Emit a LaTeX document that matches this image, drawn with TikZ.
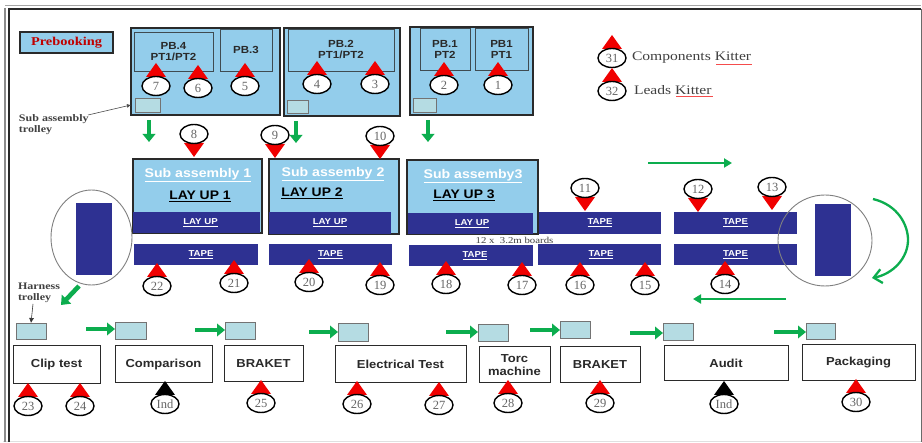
\documentclass[tikz,border=0pt]{standalone}
\usepackage{fontspec}
\setmainfont{Liberation Serif}
\newfontfamily\labfont[FakeStretch=1.12]{Liberation Sans}
\newfontfamily\widefont[FakeStretch=1.2]{Liberation Serif}
\usetikzlibrary{arrows.meta,shapes.geometric}
\definecolor{lblue}{HTML}{93CDEB}
\definecolor{dblue}{HTML}{2E3192}
\definecolor{troll}{HTML}{B5DCE3}
\definecolor{grn}{HTML}{0CAD4E}
\definecolor{rred}{HTML}{F00000}
\definecolor{inkk}{HTML}{2A2A2A}
\tikzset{
  x=1pt,y=-1pt,
  every node/.style={inner sep=0pt,outer sep=0pt},
  group/.style={draw=inkk,line width=1.4pt,fill=lblue},
  innerbox/.style={draw=inkk!80!lblue,line width=.9pt,fill=lblue,align=center,text=inkk,font=\labfont\bfseries\fontsize{10.3}{11}\selectfont},
  band/.style={fill=dblue,text=white,font=\labfont\bfseries\fontsize{8.6}{10}\selectfont},
  trolleybox/.style={draw=black!55,line width=.9pt,fill=troll},
  station/.style={draw=inkk,line width=1pt,fill=white,align=center,text=inkk,font=\labfont\bfseries\fontsize{11.6}{12.5}\selectfont},
  numoval/.style={draw=black,line width=1.4pt,fill=white,ellipse,minimum width=28pt,minimum height=19pt,text=black!60,font=\fontsize{12.5}{12.5}\selectfont},
  gblock/.style={draw=grn,line width=4.6pt,-{Triangle[length=8pt,width=12.5pt]}},
  gthin/.style={draw=grn,line width=2.3pt,-{Triangle[length=8pt,width=9pt]}},
  wheel/.style={draw=black!50,line width=.9pt,ellipse},
  note/.style={font=\widefont\bfseries\fontsize{10}{11.5}\selectfont,align=left,anchor=north west,text=black!75},
  kit/.style={font=\widefont\fontsize{13}{15}\selectfont,anchor=west,text=black!75},
  subhead/.style={text=white,font=\labfont\bfseries\fontsize{12.6}{14}\selectfont},
  layhead/.style={text=black,font=\labfont\bfseries\fontsize{12.4}{14}\selectfont},
}
% marker pointing up: triangle above the oval
\newcommand{\mku}[5][rred]{%
  \fill[#1] (#3-10,#4-9) -- (#3,#4-23) -- (#3+10,#4-9) -- cycle;
  \node[numoval] (#2) at (#3,#4) {#5};}
% marker pointing down: triangle below the oval
\newcommand{\mkd}[3]{%
  \fill[rred] (#1-10,#2+9) -- (#1,#2+23) -- (#1+10,#2+9) -- cycle;
  \node[numoval] (m#3) at (#1,#2) {#3};}
\newcommand{\boxat}[5][]{\node[#1,minimum width=#4-#2,minimum height=#5-#3] at ({(#2+#4)/2},{(#3+#5)/2})}
\begin{document}
\begin{tikzpicture}
\useasboundingbox (0,0) rectangle (922,443);
\fill[white] (0,0) rectangle (922,443);
% frame
\draw[black!12,line width=.8pt] (3,441.5) -- (921,441.5);
\draw[black!35,line width=1pt] (5,6) -- (921,6);
\draw[inkk,line width=1.3pt] (8,9) -- (921,9);
\draw[inkk,line width=2.4pt] (9,8) -- (9,442);
\draw[black!45,line width=1.4pt] (5,8) -- (5,442);
\draw[inkk!70,line width=.9pt] (921,9) -- (921,442);

% prebooking
\boxat[group,text=rred!80!black,font=\widefont\bfseries\fontsize{12}{12}\selectfont]{20}{32}{113}{53} (prebook) {Prebooking};

% PB groups
\boxat[group]{131}{28}{280}{115} (g1) {};
\boxat[group]{284}{28}{400}{116} (g2) {};
\boxat[group]{410}{27}{533}{115} (g3) {};
\boxat[innerbox]{134}{32}{213}{71} (pb4) {PB.4\\PT1/PT2};
\boxat[innerbox]{220}{29}{272}{71} (pb3) {PB.3};
\boxat[innerbox]{288}{29}{394}{71} (pb2) {PB.2\\PT1/PT2};
\boxat[innerbox]{420}{28}{470}{70} (pb1b) {PB.1\\PT2};
\boxat[innerbox]{475}{28}{528}{70} (pb1a) {PB1\\PT1};
\boxat[trolleybox]{135}{98}{160}{112} (st1) {};
\boxat[trolleybox]{287}{100}{308}{113} (st2) {};
\boxat[trolleybox]{413}{98}{436}{112} (st3) {};

\mku{m7}{156}{86}{7}
\mku{m6}{198}{88}{6}
\mku{m5}{245}{86}{5}
\mku{m4}{317}{84}{4}
\mku{m3}{375}{84}{3}
\mku{m2}{444}{85}{2}
\mku{m1}{498}{85}{1}

% legend
\mku{m31}{612}{58}{31}
\mku{m32}{612}{91}{32}
\node[kit] (k31) at (632,58) {Components Kitter};
\node[kit] (k32) at (634,90) {Leads Kitter};
\draw[rred!70,line width=.5pt] (716,64) -- (752,64);
\draw[rred!70,line width=.5pt] (676,96) -- (713,96);

% notes
\node[note] (nsub) at (19,114.5) {Sub assembly\\trolley};
\node[note] (nhar) at (18,282.5) {Harness\\trolley};
\coordinate (leadsub) at (88,115);
\draw[black!70,line width=.6pt,-{Latex[length=4pt,width=4pt]}] (leadsub) -- (g1.west |- st1.west);
\boxat[trolleybox]{16}{323}{46}{339} (t1) {};
\coordinate (leadhar) at (33,304);
\draw[black!80,line width=.6pt,-{Latex[length=5pt,width=5pt]}] (leadhar) -- (t1.north);

% sub assemblies
\boxat[group]{133}{159}{262}{233} (sa1) {};
\boxat[group]{269}{159}{399}{234} (sa2) {};
\boxat[group]{407}{160}{538}{234} (sa3) {};
\node[subhead] (sh1) at (198,175) {\underline{Sub assembly 1}};
\node[subhead] (sh2) at (333,174) {\underline{Sub assemby 2}};
\node[subhead] (sh3) at (473,176) {\underline{Sub assemby3}};
\node[layhead] (lu1) at (200,196) {\underline{LAY UP 1}};
\node[layhead] (lu2) at (312,193) {\underline{LAY UP 2}};
\node[layhead] (lu3) at (464,195) {\underline{LAY UP 3}};

% wheels
\node[wheel,fill=white,minimum width=81pt,minimum height=95pt] (w1) at (91.5,237.5) {};
\boxat[fill=dblue]{76}{203}{112}{275} (r1) {};

% bands
\boxat[band]{133}{212}{260}{233} (l1) {\hspace{8pt}\underline{LAY UP}};
\boxat[band]{269}{212}{391}{234} (l2) {\underline{LAY UP}};
\boxat[band]{408}{213}{533}{234} (l3) {\hspace{3pt}\underline{LAY UP}};
\boxat[band]{539}{212}{661}{234} (tt1) {\underline{TAPE}\hspace{6pt}};
\boxat[band]{674}{212}{797}{234} (tt2) {\underline{TAPE}\hspace{8pt}};
\boxat[band]{134}{244}{258}{265} (b1) {\hspace{10pt}\underline{TAPE}};
\boxat[band]{269}{244}{392}{265} (b2) {\underline{TAPE}\hspace{3pt}};
\boxat[band]{409}{245}{533}{266} (b3) {\hspace{8pt}\underline{TAPE}};
\boxat[band]{538}{244}{661}{265} (b4) {\hspace{3pt}\underline{TAPE}};
\boxat[band]{674}{244}{797}{265} (b5) {\underline{TAPE}};
\node[wheel,minimum width=94pt,minimum height=91pt] (w2) at (825,240.5) {};
\boxat[fill=dblue]{815}{204}{851}{276} (r2) {};
\node[font=\widefont\fontsize{9}{9}\selectfont,text=black!75] (boards) at (514.5,240) {12 x\ \ 3.2m boards};

% top markers
\mkd{194}{134}{8}
\mkd{275}{135}{9}
\mkd{380}{136}{10}
\mkd{585}{188}{11}
\mkd{698}{189}{12}
\mkd{772}{187}{13}

% tape markers
\mku{m22}{157}{286}{22}
\mku{m21}{234}{283}{21}
\mku{m20}{309}{282}{20}
\mku{m19}{380}{285}{19}
\mku{m18}{446}{284}{18}
\mku{m17}{522}{285}{17}
\mku{m16}{580}{285}{16}
\mku{m15}{645}{285}{15}
\mku{m14}{725}{284}{14}

% stations
\boxat[station]{13}{346}{100}{384} (s1) {Clip test};
\boxat[station]{115}{346}{212}{383} (s2) {Comparison};
\boxat[station]{224}{346}{303}{382} (s3) {BRAKET};
\boxat[station]{335}{346}{466}{383} (s4) {Electrical Test};
\boxat[station]{479}{347}{550}{383} (s5) {Torc\\machine};
\boxat[station]{560}{347}{640}{383} (s6) {BRAKET};
\boxat[station]{664}{346}{788}{381} (s7) {Audit};
\boxat[station]{802}{345}{915}{381} (s8) {Packaging};

% trolleys
\boxat[trolleybox]{115}{322}{146}{339} (t2) {};
\boxat[trolleybox]{225}{322}{255}{339} (t3) {};
\boxat[trolleybox]{338}{323}{368}{341} (t4) {};
\boxat[trolleybox]{478}{324}{508}{341} (t5) {};
\boxat[trolleybox]{560}{321}{590}{338} (t6) {};
\boxat[trolleybox]{663}{323}{693}{340} (t7) {};
\boxat[trolleybox]{806}{323}{835}{339} (t8) {};

% station markers
\mku{m23}{28}{406}{23}
\mku{m24}{80}{406}{24}
\mku[black]{mi1}{165}{404}{Ind}
\mku{m25}{261}{403}{25}
\mku{m26}{357}{404}{26}
\mku{m27}{439}{405}{27}
\mku{m28}{508}{403}{28}
\mku{m29}{600}{403}{29}
\mku[black]{mi2}{724}{404}{Ind}
\mku{m30}{856}{402}{30}

% green arrows
\coordinate (d1) at (149,120); \coordinate (d1e) at (149,142);
\coordinate (d2) at (296,121); \coordinate (d2e) at (296,143);
\coordinate (d3) at (428,120); \coordinate (d3e) at (428,142);
\draw[gblock] (d1) -- (d1e);
\draw[gblock] (d2) -- (d2e);
\draw[gblock] (d3) -- (d3e);
\coordinate (ra) at (648,163); \coordinate (rb) at (732,163);
\draw[gthin] (ra) -- (rb);
\coordinate (la) at (786,299); \coordinate (lb) at (693,299);
\draw[gthin] (la) -- (lb);
\coordinate (ha) at (79,286); \coordinate (hb) at (61,305);
\draw[gblock] (ha) -- (hb);
\coordinate (ca) at (873,199); \coordinate (cb) at (872,278);
\draw[draw=grn,line width=2.3pt,-{Straight Barb[length=8pt,width=14pt]}] (ca) .. controls (898,205) and (908,225) .. (908,240) .. controls (908,258) and (893,274) .. (cb);
\coordinate (f1) at (86,329); \draw[gblock] (f1) -- (t2.west |- f1);
\coordinate (f2) at (195,330); \draw[gblock] (f2) -- (t3.west |- f2);
\coordinate (f3) at (309,332); \draw[gblock] (f3) -- (t4.west |- f3);
\coordinate (f4) at (446,332); \draw[gblock] (f4) -- (t5.west |- f4);
\coordinate (f5) at (530,330); \draw[gblock] (f5) -- (t6.west |- f5);
\coordinate (f6) at (630,333); \draw[gblock] (f6) -- (t7.west |- f6);
\coordinate (f7) at (774,332); \draw[gblock] (f7) -- (t8.west |- f7);
\end{tikzpicture}
\end{document}
